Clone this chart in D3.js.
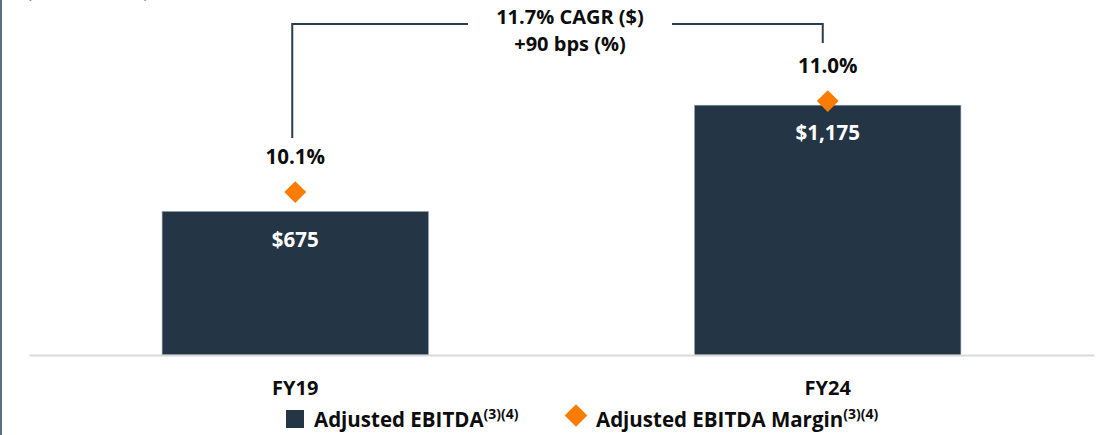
<!DOCTYPE html>
<html>
<head>
<meta charset="utf-8">
<script src="https://cdn.jsdelivr.net/npm/d3@7"></script>
<style>
  html, body { margin: 0; padding: 0; background: #ffffff; overflow: hidden; }
  svg { display: block; font-family: "Open Sans", "Liberation Sans", sans-serif; }
</style>
</head>
<body>
<svg id="chart" width="1101" height="435"></svg>
<script>
// Adjusted EBITDA ($M) with margin (%) for the two fiscal years
const categories = ["FY19", "FY24"];
const ebitda = [675, 1175];
const margin = [10.1, 11.0];
const growthLines = ["11.7% CAGR ($)", "+90 bps (%)"];
const legendNames = ["Adjusted EBITDA", "Adjusted EBITDA Margin"];
const legendNote = "(3)(4)";
const unitNote = "($ in millions)";

const BAR = "#243645";
const DIAMOND = "#fb7c00";
const INK = "#0d0d0d";

const svg = d3.select("#chart");
const W = 1101, H = 435;

// left frame rule
svg.append("rect").attr("x", 0).attr("y", 0).attr("width", 2).attr("height", H).attr("fill", "#5d7080");

// unit caption sitting at the top edge
svg.append("text").attr("x", 26).attr("y", -3)
  .attr("font-size", 20).attr("fill", INK).text(unitNote);

const x = d3.scaleBand().domain(categories).range([29, 1094])
  .paddingInner(0.5).paddingOuter(0.25);
const y = d3.scaleLinear().domain([0, 1670]).range([355, 0]);
const yM = d3.scaleLinear().domain([8, 12]).range([404.4, 0]);

const rows = categories.map((c, i) => ({ cat: c, val: ebitda[i], m: margin[i] }));
const fmtUsd = v => "$" + d3.format(",")(v);
const fmtPct = v => d3.format(".1f")(v) + "%";

// bars
svg.append("g").selectAll("rect").data(rows).join("rect")
  .attr("x", d => x(d.cat))
  .attr("y", d => y(d.val))
  .attr("width", x.bandwidth())
  .attr("height", d => y(0) - y(d.val))
  .attr("fill", BAR)
  .attr("stroke", "#8a98a5").attr("stroke-width", 0.6);

// category axis
const axis = svg.append("g").attr("transform", `translate(0,${y(0)})`)
  .call(d3.axisBottom(x).tickSize(0).tickSizeOuter(0));
axis.select(".domain").attr("stroke", "#d9d9d9").attr("stroke-width", 2);
axis.selectAll(".tick text")
  .attr("dy", null).attr("y", 40)
  .attr("font-family", "Open Sans").attr("font-size", 20).attr("font-weight", 700)
  .attr("fill", INK);

// value labels inside bars
svg.append("g").selectAll("text").data(rows).join("text")
  .attr("x", d => x(d.cat) + x.bandwidth() / 2)
  .attr("y", d => y(d.val) + 35)
  .attr("text-anchor", "middle")
  .attr("font-size", 20.5).attr("font-weight", 700).attr("fill", "#ffffff")
  .text(d => fmtUsd(d.val));

// margin markers
const diamond = d3.symbol(d3.symbolSquare, 240);
svg.append("g").selectAll("path").data(rows).join("path")
  .attr("d", diamond)
  .attr("transform", d => `translate(${x(d.cat) + x.bandwidth() / 2},${yM(d.m)}) rotate(45)`)
  .attr("fill", DIAMOND);

svg.append("g").selectAll("text").data(rows).join("text")
  .attr("x", d => x(d.cat) + x.bandwidth() / 2)
  .attr("y", d => yM(d.m) - 28)
  .attr("text-anchor", "middle")
  .attr("font-size", 20.5).attr("font-weight", 700).attr("fill", INK)
  .text(d => fmtPct(d.m));

// growth bracket between the two margin labels
const cx0 = x(categories[0]) + x.bandwidth() / 2 - 3;
const cx1 = x(categories[1]) + x.bandwidth() / 2 - 5;
const topY = 24;
const labelX = 570, gapHalf = 102;
const bracket = svg.append("g").attr("fill", "none").attr("stroke", "#2b3c4d").attr("stroke-width", 2);
bracket.append("path").attr("d", `M${cx0},${yM(margin[0]) - 54}V${topY}H${labelX - gapHalf}`);
bracket.append("path").attr("d", `M${labelX + gapHalf},${topY}H${cx1}V${yM(margin[1]) - 58}`);

svg.append("g").selectAll("text").data(growthLines).join("text")
  .attr("x", labelX)
  .attr("y", (d, i) => 24 + i * 27)
  .attr("text-anchor", "middle")
  .attr("font-size", 20).attr("font-weight", 700).attr("fill", INK)
  .text(d => d);

// legend
const lg = svg.append("g").attr("font-weight", 700).attr("fill", INK);
lg.append("rect").attr("x", 286).attr("y", 410).attr("width", 18).attr("height", 18).attr("fill", BAR);
lg.append("path").attr("d", d3.symbol(d3.symbolSquare, 256))
  .attr("transform", "translate(576,415.5) rotate(45)").attr("fill", DIAMOND);

[[314, legendNames[0]], [596, legendNames[1]]].forEach(([lx, name]) => {
  const t = lg.append("text").attr("x", lx).attr("y", 427).attr("font-size", 20.5);
  t.append("tspan").text(name);
  t.append("tspan").attr("dy", -8).attr("font-size", 14).text(legendNote);
});
</script>
</body>
</html>
